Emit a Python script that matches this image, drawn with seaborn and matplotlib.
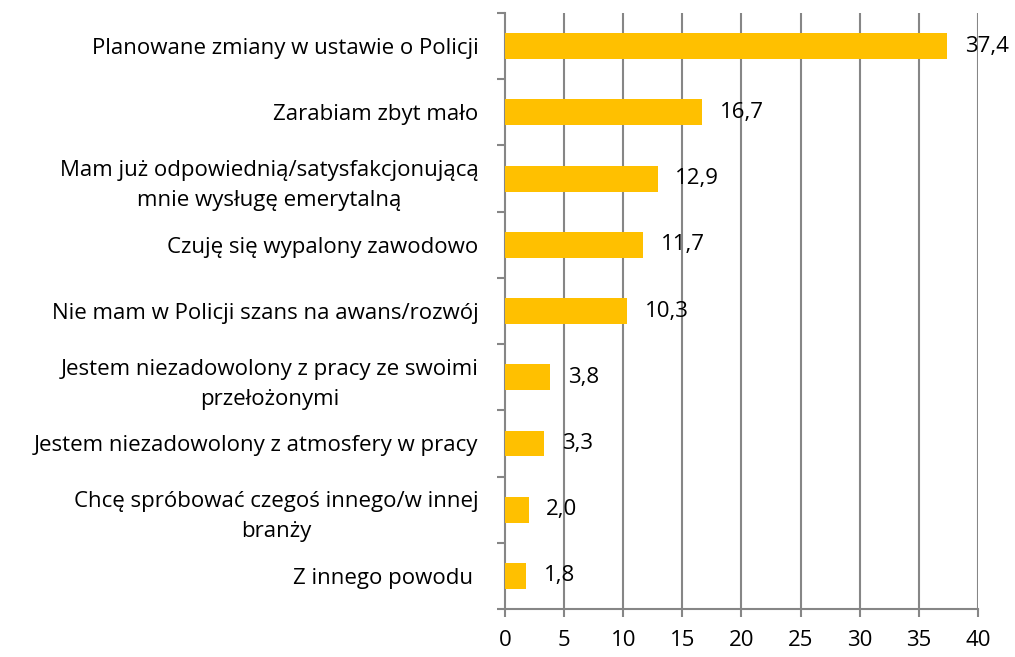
import numpy as np
import pandas as pd
import matplotlib
matplotlib.use("Agg")
import matplotlib.pyplot as plt
import seaborn as sns
from matplotlib.ticker import MultipleLocator

categories = [
    "Planowane zmiany w ustawie o Policji",
    "Zarabiam zbyt mało",
    "Mam już odpowiednią/satysfakcjonującą\nmnie wysługę emerytalną",
    "Czuję się wypalony zawodowo",
    "Nie mam w Policji szans na awans/rozwój",
    "Jestem niezadowolony z pracy ze swoimi\nprzełożonymi",
    "Jestem niezadowolony z atmosfery w pracy",
    "Chcę spróbować czegoś innego/w innej\nbranży",
    "Z innego powodu ",
]
values = [37.4, 16.7, 12.9, 11.7, 10.3, 3.8, 3.3, 2.0, 1.8]
x_ticks = [0, 5, 10, 15, 20, 25, 30, 35, 40]

bar_color = "#FFC000"
grid_color = "#868686"
fs = 16

sns.set_theme(style="white")
plt.rcParams["font.family"] = ["Open Sans", "DejaVu Sans"]

df = pd.DataFrame({"reason": categories, "pct": values})

fig = plt.figure(figsize=(10.15, 6.57), dpi=100)
ax = fig.add_axes([0.4975, 0.0731, 0.466, 0.907])

sns.barplot(data=df, x="pct", y="reason", color=bar_color, width=0.39,
            saturation=1, linewidth=0, ax=ax, zorder=3)

ax.set_xlim(0, 40)
ax.set_ylim(len(categories) - 0.5, -0.5)
ax.set_xticks(x_ticks)
ax.set_xticklabels([str(t) for t in x_ticks])
ax.set_xlabel("")
ax.set_ylabel("")

# vertical gridlines
for t in x_ticks[1:]:
    ax.axvline(t, color=grid_color, lw=1.5, zorder=1)

for s in ["top", "right"]:
    ax.spines[s].set_visible(False)
for s in ["left", "bottom"]:
    ax.spines[s].set_color(grid_color)
    ax.spines[s].set_linewidth(1.5)

ax.yaxis.set_minor_locator(MultipleLocator(1, offset=0.5))
ax.tick_params(axis="y", which="major", length=0, pad=19, labelsize=fs,
               labelcolor="black")
ax.tick_params(axis="y", which="minor", length=6, width=1.5, color=grid_color, left=True)
ax.tick_params(axis="x", which="major", length=6, width=1.5, color=grid_color,
               bottom=True, pad=9, labelsize=fs, labelcolor="black")
for lab in ax.get_yticklabels():
    lab.set_multialignment("center")
    lab.set_linespacing(1.55)

# value labels
for i, v in enumerate(values):
    ax.text(v + 1.5, i, f"{v:.1f}".replace(".", ","), va="center", ha="left",
            fontsize=fs, color="black", zorder=4, clip_on=False)

fig.savefig("out.png", dpi=100)
